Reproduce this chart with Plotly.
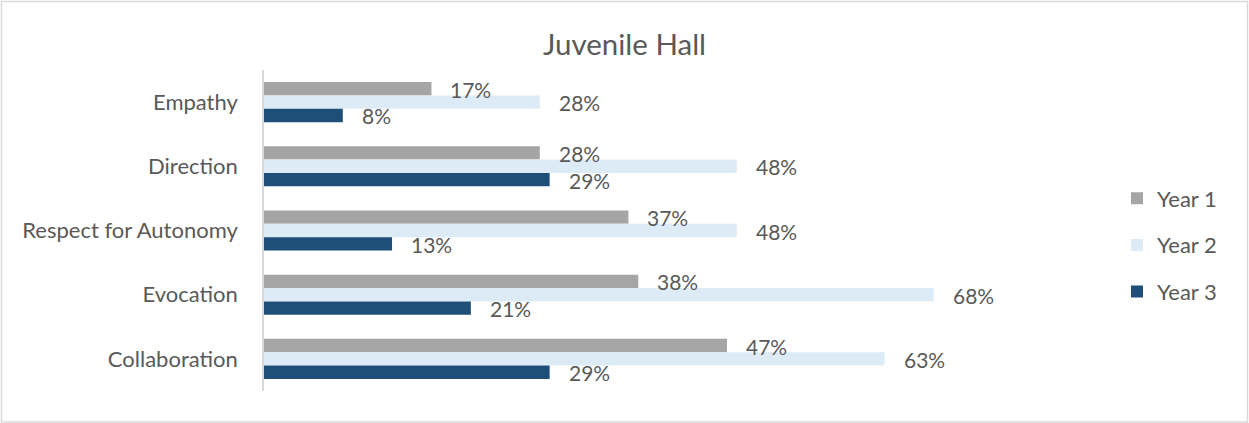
import plotly.graph_objects as go

# Survey dimensions, top to bottom
categories = ["Empathy", "Direction", "Respect for Autonomy", "Evocation", "Collaboration"]
year1 = [0.17, 0.28, 0.37, 0.38, 0.47]
year2 = [0.28, 0.48, 0.48, 0.68, 0.63]
year3 = [0.08, 0.29, 0.13, 0.21, 0.29]

series = [
    ("Year 1", year1, "#A5A5A5"),
    ("Year 2", year2, "#DDEBF7"),
    ("Year 3", year3, "#1F4E79"),
]

FONT = "Lato, 'Open Sans', sans-serif"
TEXT_COLOR = "#595959"

W, H = 1249, 423
ML, MR, MT, MB = 264, 197, 70, 32
PW = W - ML - MR
PH = H - MT - MB
BARGAP = 0.375

fig = go.Figure()
for name, vals, color in series:
    fig.add_trace(go.Bar(
        name=name,
        y=categories,
        x=vals,
        orientation="h",
        marker=dict(color=color, line=dict(width=0)),
        legendgroup=name,
    ))

# Value labels go on top of every bar layer, offset to each bar's slot in the group
slot_px = PH / len(categories) * (1 - BARGAP) / len(series)
for i, (name, vals, color) in enumerate(series):
    shift = (1 - i) * slot_px - 0.5
    for cat, v in zip(categories, vals):
        fig.add_annotation(
            x=v, y=cat, xref="x", yref="y",
            text=f"{v:.0%}", showarrow=False,
            xanchor="left", yanchor="middle",
            xshift=17, yshift=shift,
            font=dict(family=FONT, size=21, color=TEXT_COLOR),
        )

def px_x(p):
    return (p - ML) / PW

def px_y(p):
    return (H - MB - p) / PH

fig.add_shape(
    type="rect", xref="paper", yref="paper",
    x0=px_x(1.5), x1=px_x(1247.5), y0=px_y(422), y1=px_y(1.5),
    line=dict(color="#D9D9D9", width=1.5), fillcolor="rgba(0,0,0,0)", layer="below",
)

fig.update_layout(
    width=W, height=H,
    margin=dict(l=ML, r=MR, t=MT, b=MB),
    paper_bgcolor="white", plot_bgcolor="white",
    barmode="group", bargap=BARGAP, bargroupgap=0,
    title=dict(text="Juvenile Hall", x=0.5, xref="container", xanchor="center",
               y=1 - 45 / H, yanchor="middle",
               font=dict(family=FONT, size=29.5, color=TEXT_COLOR)),
    xaxis=dict(range=[0, 0.8], visible=False, showgrid=False, zeroline=False),
    yaxis=dict(autorange="reversed", showgrid=False, zeroline=False,
               showline=True, linecolor="#D9D9D9", linewidth=1.5,
               ticks="", ticklabelstandoff=20,
               tickfont=dict(family=FONT, size=22, color=TEXT_COLOR)),
    legend=dict(x=px_x(1117), xanchor="left", y=px_y(245), yanchor="middle",
                traceorder="grouped", tracegroupgap=15,
                font=dict(family=FONT, size=22, color=TEXT_COLOR),
                bgcolor="rgba(0,0,0,0)"),
    showlegend=True,
)

fig.write_html("out.html")
